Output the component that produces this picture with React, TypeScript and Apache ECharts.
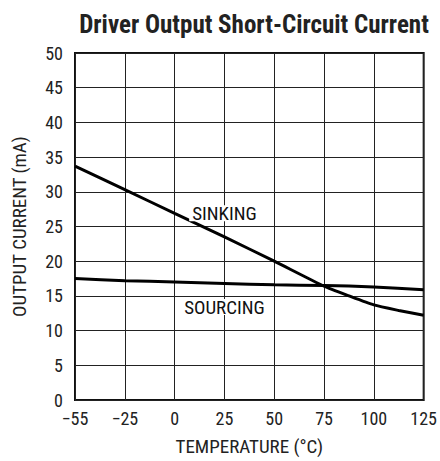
import React, { useEffect, useRef } from "react";
import * as echarts from "echarts";

const tickLabels = ["\u221255", "\u221225", "0", "25", "50", "75", "100", "125"];
const tickTemps = [-55, -25, 0, 25, 50, 75, 100, 125];

const sinkTemps = [-55, -25, 0, 25, 50, 75, 87.5, 100, 112.5, 125];
const sinking = [33.7, 30.3, 26.9, 23.5, 20.0, 16.4, 15.0, 13.7, 12.9, 12.2];

const sourceTemps = [-55, -25, 0, 25, 50, 75, 100, 125];
const sourcing = [17.5, 17.2, 17.0, 16.8, 16.6, 16.5, 16.3, 15.9];

const FONT = "'Liberation Sans Narrow', 'Arial Narrow', 'Roboto Condensed', 'Liberation Sans', sans-serif";

// axis positions: columns are equally spaced between listed ticks
function pos(t: number): number {
  for (let i = 0; i < tickTemps.length - 1; i++) {
    const a = tickTemps[i], b = tickTemps[i + 1];
    if (t <= b || i === tickTemps.length - 2) return i + (t - a) / (b - a);
  }
  return 0;
}

export default function App() {
  const ref = useRef<HTMLDivElement>(null);
  useEffect(() => {
    const chart = echarts.init(ref.current!, null, { renderer: "svg" });
    const labelStyle = (text: string) => ({
      show: true,
      position: "inside",
      formatter: text,
      color: "#111",
      fontFamily: FONT,
      fontSize: 19,
      lineHeight: 16,
      backgroundColor: "#fff",
      padding: [0, 3],
    });
    chart.setOption({
      animation: false,
      backgroundColor: "#fff",
      title: {
        text: "Driver Output Short-Circuit Current",
        left: 249,
        textAlign: "center",
        top: 7,
        textStyle: { fontFamily: FONT, fontSize: 25, fontWeight: "bold", color: "#222" },
      },
      grid: {
        left: 75,
        right: 14,
        top: 53,
        bottom: 56,
        show: true,
        borderColor: "#111",
        borderWidth: 2,
        backgroundColor: "transparent",
      },
      xAxis: {
        type: "value",
        min: 0,
        max: 7,
        interval: 1,
        name: "TEMPERATURE (\u00b0C)",
        nameLocation: "middle",
        nameGap: 37,
        nameTextStyle: { fontFamily: FONT, fontSize: 19, color: "#222" },
        axisLine: { show: false },
        axisTick: { show: false },
        splitLine: { show: true, lineStyle: { color: "#222", width: 1 } },
        axisLabel: {
          fontFamily: FONT,
          fontSize: 18,
          color: "#222",
          margin: 9,
          formatter: (v: number) => tickLabels[Math.round(v)] ?? "",
        },
      },
      yAxis: {
        type: "value",
        min: 0,
        max: 50,
        interval: 5,
        name: "OUTPUT CURRENT (mA)",
        nameLocation: "middle",
        nameGap: 46,
        nameTextStyle: { fontFamily: FONT, fontSize: 19, color: "#222" },
        axisLine: { show: false },
        axisTick: { show: false },
        splitLine: { show: true, lineStyle: { color: "#222", width: 1 } },
        axisLabel: { fontFamily: FONT, fontSize: 18, color: "#222", margin: 12 },
      },
      series: [
        {
          type: "line",
          name: "SINKING",
          data: sinkTemps.map((t, i) => [pos(t), sinking[i]]),
          smooth: 0.2,
          showSymbol: false,
          lineStyle: { color: "#000", width: 3 },
          markPoint: {
            symbol: "circle",
            symbolSize: 0,
            data: [{ coord: [pos(25), 26.9], label: labelStyle("SINKING") }],
          },
          z: 3,
        },
        {
          type: "line",
          name: "SOURCING",
          data: sourceTemps.map((t, i) => [pos(t), sourcing[i]]),
          smooth: 0.2,
          showSymbol: false,
          lineStyle: { color: "#000", width: 3 },
          markPoint: {
            symbol: "circle",
            symbolSize: 0,
            data: [{ coord: [pos(25), 13.4], label: labelStyle("SOURCING") }],
          },
          z: 3,
        },
      ],
    });
    return () => chart.dispose();
  }, []);
  return <div ref={ref} style={{ width: 440, height: 461, position: "absolute", left: 0, top: 0 }} />;
}
